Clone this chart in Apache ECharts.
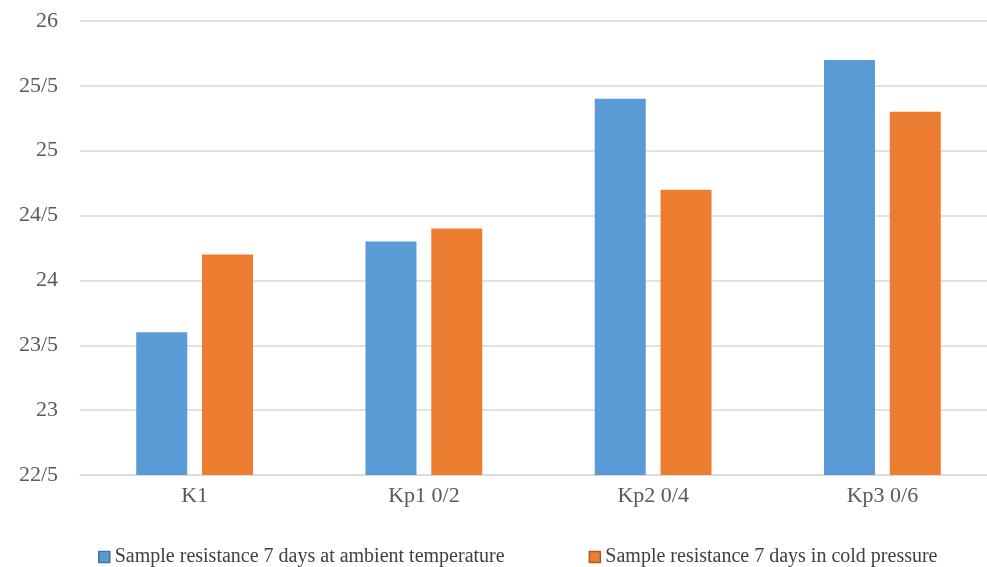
<!DOCTYPE html>
<html>
<head>
<meta charset="utf-8">
<script src="https://cdn.jsdelivr.net/npm/echarts@6/dist/echarts.min.js"></script>
<style>
  html, body { margin: 0; padding: 0; background: #ffffff; overflow: hidden; }
  #chart { width: 1000px; height: 567px; }
</style>
</head>
<body>
<div id="chart"></div>
<script>
// Compressive resistance of samples after 7 days
var categories = ['K1', 'Kp1 0/2', 'Kp2 0/4', 'Kp3 0/6'];
var ambientValues = [23.6, 24.3, 25.4, 25.7];
var coldPressureValues = [24.2, 24.4, 24.7, 25.3];
var seriesNames = [
  'Sample resistance 7 days at ambient temperature',
  'Sample resistance 7 days in cold pressure'
];
var yMin = 22.5, yMax = 26, yStep = 0.5;

var fontFamily = '"Liberation Serif", "DejaVu Serif", serif';

var chart = echarts.init(document.getElementById('chart'), null, { renderer: 'canvas' });
chart.setOption({
  backgroundColor: '#ffffff',
  animation: false,
  grid: { left: 80, top: 21, width: 917, height: 454, containLabel: false },
  xAxis: {
    type: 'category',
    data: categories,
    axisLine: { lineStyle: { color: '#d9d9d9', width: 1.5 } },
    axisTick: { show: false },
    axisLabel: { color: '#595959', fontFamily: fontFamily, fontSize: 22, margin: 10 }
  },
  yAxis: {
    type: 'value',
    min: yMin, max: yMax, interval: yStep,
    axisLine: { show: false },
    axisTick: { show: false },
    splitLine: { lineStyle: { color: '#d9d9d9', width: 1.5 } },
    axisLabel: {
      color: '#595959', fontFamily: fontFamily, fontSize: 22, margin: 22,
      padding: [4, 0, 0, 0],
      formatter: function (v) { return String(+v.toFixed(1)).replace('.', '/'); }
    }
  },
  legend: {
    left: 93, top: 542,
    itemWidth: 11, itemHeight: 11, itemGap: 84,
    icon: 'rect',
    textStyle: { color: '#404040', fontFamily: fontFamily, fontSize: 20 },
    data: [
      { name: seriesNames[0], itemStyle: { borderColor: '#41719c', borderWidth: 1.5 } },
      { name: seriesNames[1], itemStyle: { borderColor: '#ae5a21', borderWidth: 1.5 } }
    ]
  },
  series: [
    {
      name: seriesNames[0], type: 'bar', data: ambientValues,
      itemStyle: { color: '#5b9bd5' },
      barWidth: 51, barGap: '29%'
    },
    {
      name: seriesNames[1], type: 'bar', data: coldPressureValues,
      itemStyle: { color: '#ed7d31' },
      barWidth: 51, barGap: '29%'
    }
  ]
});
</script>
</body>
</html>
